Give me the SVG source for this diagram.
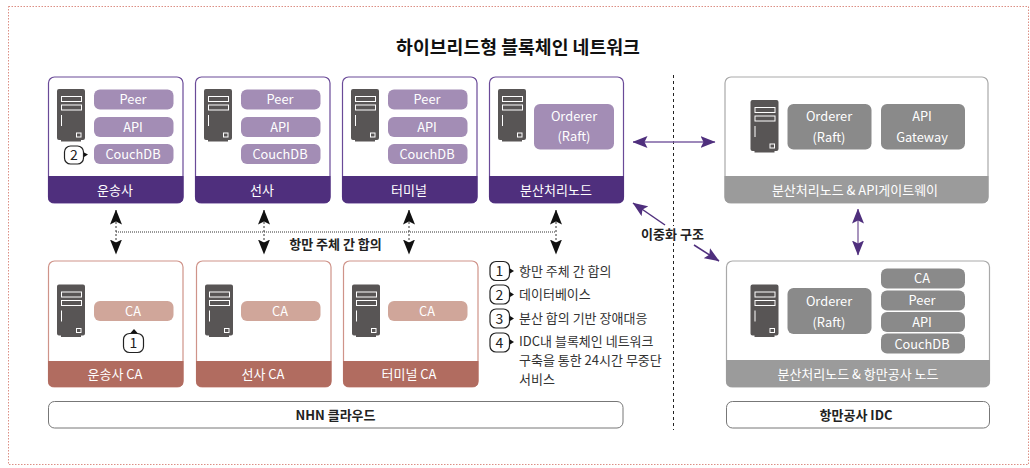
<svg xmlns="http://www.w3.org/2000/svg" width="1030" height="468" viewBox="0 0 1030 468">
<style>
text{font-family:"Noto Sans CJK KR","Noto Sans",sans-serif;text-anchor:middle}
.card{fill:#fff;stroke-width:1.2}
.p{stroke:#6a4a98}.r{stroke:#cf9389}.g{stroke:#a9a9a9}
.hp{fill:#4f2f7d}.hr{fill:#b16c60}.hg{fill:#9b9b9b}
.pill{font-size:12.800px;fill:#fff}
.fp{fill:#a38db5}.fr{fill:#d0a69a}.fg{fill:#8a8a8a}
.hd{font-size:13px;fill:#fff}
.num{fill:#fff;stroke:#222;stroke-width:1.200}
.nt{font-size:14px;fill:#222}
.lt{font-size:13px;fill:#333;text-anchor:start}
.b{font-size:13px;font-weight:700;fill:#222}
</style>
<defs>
<g id="srv">
<path d="M0 2Q0 0 2 0H26Q28 0 28 2V49Q28 51 26 51H24V52.500H4V51H2Q0 51 0 49Z" fill="#585555"/>
<g fill="none" stroke="#fff" stroke-width="1"><rect x="4.500" y="7.500" width="20" height="5"/><rect x="4.500" y="16" width="20" height="5"/><path d="M4.500 26V37"/><rect x="19.500" y="44" width="4.500" height="4"/></g>
</g>
<marker id="ak" viewBox="0 0 15 12" refX="14.500" refY="6" markerWidth="15" markerHeight="12" orient="auto-start-reverse" markerUnits="userSpaceOnUse"><path d="M0 0L15 6L0 12L3 6Z" fill="#111"/></marker>
<marker id="ap" viewBox="0 0 15 12" refX="14.500" refY="6" markerWidth="15" markerHeight="12" orient="auto-start-reverse" markerUnits="userSpaceOnUse"><path d="M0 0L15 6L0 12L3 6Z" fill="#4f2f7d"/></marker>
</defs>

<rect x="8.500" y="6.500" width="1020" height="458" fill="none" stroke="#dc8f84" stroke-width="1" stroke-dasharray="1.500 1.500"/>
<text x="518" y="54" style="font-size:18.300px;font-weight:700;fill:#111">하이브리드형 블록체인 네트워크</text>

<g id="connectors" fill="none">
<path d="M673.500 75V430" stroke="#222" stroke-dasharray="3 3"/>
<path d="M116 232H556" stroke="#333" stroke-dasharray="1 1"/>
<g stroke="#333" stroke-dasharray="2 2" marker-start="url(#ak)" marker-end="url(#ak)">
<path d="M116 210V254"/><path d="M264 210V254"/><path d="M409 210V254"/><path d="M556 210V254"/>
</g>
<g stroke-width="1.500">
<path d="M633 142H715" stroke="#7d61a3" marker-start="url(#ap)" marker-end="url(#ap)"/>
<path d="M858 209V255" stroke="#8c72a8" marker-start="url(#ap)" marker-end="url(#ap)"/>
<path d="M665 225L633 203" stroke="#4f2f7d" marker-end="url(#ap)"/>
<path d="M694 245L719 261" stroke="#4f2f7d" marker-end="url(#ap)"/>
</g>
</g>

<g id="node-carrier"><rect class="card p" x="48.500" y="77" width="134.500" height="126" rx="6"/><path class="hp" d="M48 176H183.500V197Q183.500 203 177.500 203H54Q48 203 48 197Z"/><use href="#srv" x="57" y="89"/>
<rect class="fp" x="94" y="89.500" width="79.500" height="20" rx="6"/><text class="pill" x="133" y="104">Peer</text>
<rect class="fp" x="94" y="117" width="79.500" height="20" rx="6"/><text class="pill" x="133" y="131.500">API</text>
<rect class="fp" x="94" y="144" width="79.500" height="20" rx="6"/><text class="pill" x="133" y="158.500">CouchDB</text>
<text class="hd" x="115" y="194.500">운송사</text></g>

<g id="node-liner"><rect class="card p" x="195.500" y="77" width="134.500" height="126" rx="6"/><path class="hp" d="M195 176H330.500V197Q330.500 203 324.500 203H201Q195 203 195 197Z"/><use href="#srv" x="204" y="89"/>
<rect class="fp" x="241" y="89.500" width="79.500" height="20" rx="6"/><text class="pill" x="280" y="104">Peer</text>
<rect class="fp" x="241" y="117" width="79.500" height="20" rx="6"/><text class="pill" x="280" y="131.500">API</text>
<rect class="fp" x="241" y="144" width="79.500" height="20" rx="6"/><text class="pill" x="280" y="158.500">CouchDB</text>
<text class="hd" x="262" y="194.500">선사</text></g>

<g id="node-terminal"><rect class="card p" x="342.500" y="77" width="134.500" height="126" rx="6"/><path class="hp" d="M342 176H477.500V197Q477.500 203 471.500 203H348Q342 203 342 197Z"/><use href="#srv" x="351" y="89"/>
<rect class="fp" x="388" y="89.500" width="79.500" height="20" rx="6"/><text class="pill" x="427" y="104">Peer</text>
<rect class="fp" x="388" y="117" width="79.500" height="20" rx="6"/><text class="pill" x="427" y="131.500">API</text>
<rect class="fp" x="388" y="144" width="79.500" height="20" rx="6"/><text class="pill" x="427" y="158.500">CouchDB</text>
<text class="hd" x="409" y="194.500">터미널</text></g>

<g id="node-orderer"><rect class="card p" x="489.500" y="77" width="134" height="126" rx="6"/><path class="hp" d="M489 176H624V197Q624 203 618 203H495Q489 203 489 197Z"/><use href="#srv" x="498" y="89"/>
<rect class="fp" x="534" y="104" width="80" height="45.500" rx="6"/><text class="pill" x="574" y="121">Orderer</text><text class="pill" x="574" y="141">(Raft)</text>
<text class="hd" x="556" y="194.500">분산처리노드</text></g>

<g id="node-carrier-ca"><rect class="card r" x="48.500" y="261" width="134.500" height="126" rx="6"/><path class="hr" d="M48 361H183.500V381Q183.500 387 177.500 387H54Q48 387 48 381Z"/><use href="#srv" x="57" y="284.500"/>
<rect class="fr" x="94" y="301" width="79.500" height="20" rx="6"/><text class="pill" x="133" y="316">CA</text><text class="hd" x="115" y="379">운송사 CA</text></g>

<g id="node-liner-ca"><rect class="card r" x="196.500" y="261" width="134.500" height="126" rx="6"/><path class="hr" d="M196 361H331.500V381Q331.500 387 325.500 387H202Q196 387 196 381Z"/><use href="#srv" x="205" y="284.500"/>
<rect class="fr" x="241" y="301" width="79.500" height="20" rx="6"/><text class="pill" x="280" y="316">CA</text><text class="hd" x="263" y="379">선사 CA</text></g>

<g id="node-terminal-ca"><rect class="card r" x="343.500" y="261" width="134.500" height="126" rx="6"/><path class="hr" d="M343 361H478.500V381Q478.500 387 472.500 387H349Q343 387 343 381Z"/><use href="#srv" x="352" y="284.500"/>
<rect class="fr" x="388" y="301" width="79.500" height="20" rx="6"/><text class="pill" x="427" y="316">CA</text><text class="hd" x="409" y="379">터미널 CA</text></g>

<g id="node-gw"><rect class="card g" x="725" y="77" width="263" height="126" rx="6"/><path class="hg" d="M724.500 176H988.500V197Q988.500 203 982.500 203H730.500Q724.500 203 724.500 197Z"/><use href="#srv" x="750.500" y="100"/>
<rect class="fg" x="787.500" y="104" width="84" height="45.500" rx="6"/><text class="pill" x="829" y="121">Orderer</text><text class="pill" x="829" y="142">(Raft)</text>
<rect class="fg" x="881" y="104" width="84" height="45.500" rx="6"/><text class="pill" x="922" y="121">API</text><text class="pill" x="922" y="142">Gateway</text>
<text class="hd" x="855" y="194.500">분산처리노드 &amp; API게이트웨이</text></g>

<g id="node-port"><rect class="card g" x="726.500" y="261" width="263" height="126" rx="6"/><path class="hg" d="M726 360H990V381Q990 387 984 387H732Q726 387 726 381Z"/><use href="#srv" x="750.500" y="284.500"/>
<rect class="fg" x="787.500" y="288" width="84" height="46" rx="6"/><text class="pill" x="829" y="306">Orderer</text><text class="pill" x="829" y="327">(Raft)</text>
<rect class="fg" x="881" y="268.500" width="84" height="20" rx="6"/><text class="pill" x="922" y="283">CA</text>
<rect class="fg" x="881" y="290.500" width="84" height="20" rx="6"/><text class="pill" x="922" y="305">Peer</text>
<rect class="fg" x="881" y="312" width="84" height="20" rx="6"/><text class="pill" x="922" y="327">API</text>
<rect class="fg" x="881" y="333.500" width="84" height="20" rx="6"/><text class="pill" x="922" y="348.500">CouchDB</text>
<text class="hd" x="858" y="378.500">분산처리노드 &amp; 항만공사 노드</text></g>

<g id="node-nhn"><rect x="48.500" y="401.500" width="574.500" height="26.500" rx="6" fill="#fff" stroke="#777"/><text class="b" x="335.500" y="419.500">NHN 클라우드</text></g>
<g id="node-idc"><rect x="726.500" y="401.500" width="263" height="26.500" rx="6" fill="#fff" stroke="#777"/><text class="b" x="856" y="419.500">항만공사 IDC</text></g>

<text class="b" x="335.500" y="249">항만 주체 간 합의</text>
<rect x="640" y="226" width="66" height="16" fill="#fff"/>
<text class="b" x="672.500" y="238.500">이중화 구조</text>

<g id="badges">
<g><rect class="num" x="64.500" y="146" width="19" height="18" rx="6"/><path d="M84 152.500L88 154.500L84 157Z" fill="#111"/><text class="nt" x="74" y="160">2</text></g>
<g><rect class="num" x="123.500" y="333.500" width="20" height="19" rx="6"/><path d="M130.500 333L134 329L137.500 333Z" fill="#111"/><text class="nt" x="133.500" y="348">1</text></g>
<g><rect class="num" x="490" y="261.500" width="19.500" height="19" rx="6"/><path d="M510 268.500L514 271L510 273.500Z" fill="#111"/><text class="nt" x="499.500" y="276">1</text></g>
<g><rect class="num" x="490" y="285" width="19.500" height="19" rx="6"/><path d="M510 292L514 294.500L510 297Z" fill="#111"/><text class="nt" x="499.500" y="299.500">2</text></g>
<g><rect class="num" x="490" y="309" width="19.500" height="19" rx="6"/><path d="M510 316L514 318.500L510 321Z" fill="#111"/><text class="nt" x="499.500" y="323.500">3</text></g>
<g><rect class="num" x="490" y="333" width="19.500" height="19" rx="6"/><path d="M510 339.500L514 342L510 344.500Z" fill="#111"/><text class="nt" x="499.500" y="347.500">4</text></g>
</g>
<text class="lt" x="519" y="275.500">항만 주체 간 합의</text>
<text class="lt" x="519" y="299">데이터베이스</text>
<text class="lt" x="519" y="323">분산 합의 기반 장애대응</text>
<text class="lt" x="519" y="345.500">IDC내 블록체인 네트워크</text>
<text class="lt" x="519" y="365">구축을 통한 24시간 무중단</text>
<text class="lt" x="519" y="384">서비스</text>
</svg>
